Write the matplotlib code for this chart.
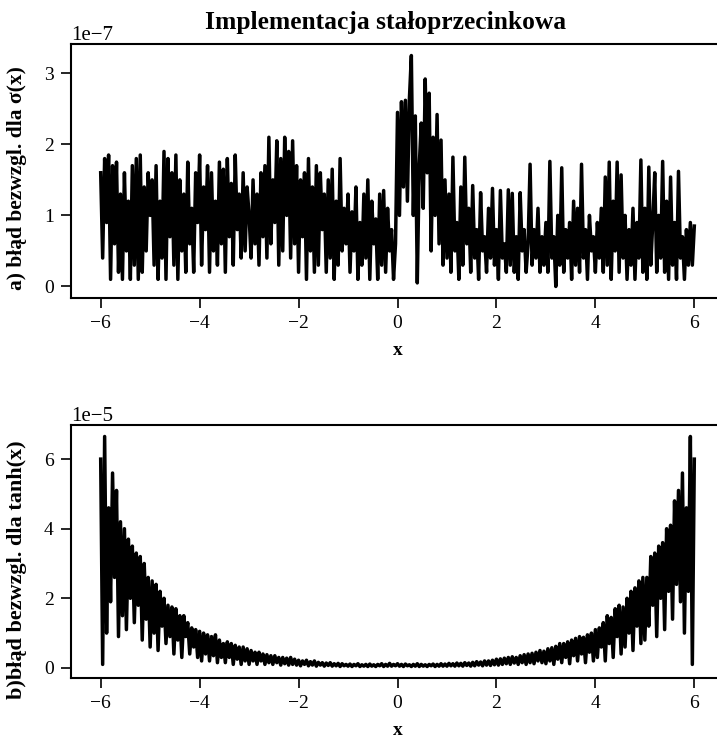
import numpy as np
import matplotlib
matplotlib.use("Agg")
import matplotlib.pyplot as plt

plt.rcParams['font.family'] = ['Liberation Serif', 'DejaVu Serif']

# blad bezwzgledny sigmoidy (jednostki 1e-7), krok 0.04 od -6 do 6
sig_err = [
    1.6, 0.4, 1.8, 0.9, 1.85, 0.1, 1.7, 0.6, 1.75, 0.2, 1.3, 0.1, 1.6, 0.5, 1.2, 0.1, 1.7, 0.3, 1.8, 0.1, 1.85, 0.2, 1.4, 0.5, 1.6,
    1.0, 1.5, 0.3, 1.7, 0.1, 1.2, 0.4, 1.9, 0.1, 1.8, 0.7, 1.6, 0.3, 1.85, 0.1, 1.5, 0.5, 1.3, 0.2, 1.75, 0.6, 1.1, 0.2, 1.6, 0.9,
    1.85, 0.3, 1.4, 0.8, 1.7, 0.2, 1.6, 0.5, 1.2, 0.3, 1.75, 0.6, 1.65, 0.2, 1.8, 0.7, 1.45, 0.3, 1.85, 0.8, 1.3, 0.4, 1.6, 0.5, 1.4,
    1.0, 0.4, 1.5, 0.6, 1.3, 0.3, 1.6, 0.7, 1.7, 0.4, 2.1, 0.6, 1.5, 0.9, 2.05, 0.3, 1.8, 0.5, 2.1, 1.0, 1.9, 0.4, 2.05, 0.6, 1.7,
    0.2, 1.5, 0.7, 1.6, 0.1, 1.8, 0.5, 1.4, 0.2, 1.7, 0.3, 1.6, 0.8, 1.3, 0.2, 1.5, 0.4, 1.65, 0.1, 1.2, 0.3, 1.8, 0.5, 1.1, 0.6,
    1.3, 0.2, 1.05, 0.5, 1.4, 0.1, 0.9, 0.3, 1.3, 0.4, 1.5, 0.1, 1.2, 0.6, 0.95, 0.1, 1.3, 0.3, 1.35, 0.2, 1.1, 0.5, 0.8, 0.1, 0.6,
    2.45, 1.0, 2.6, 1.4, 2.62, 1.2, 2.63, 3.25, 1.0, 2.4, 0.05, 1.7, 2.3, 1.1, 2.92, 1.6, 2.72, 0.5, 2.1, 1.0, 2.42, 0.6, 2.06, 0.3, 1.5,
    0.4, 1.3, 0.2, 1.82, 0.5, 0.9, 0.1, 1.4, 0.3, 1.82, 0.6, 1.1, 0.2, 1.42, 0.4, 0.8, 0.1, 1.32, 0.5, 0.7, 0.2, 1.1, 0.4, 1.38, 0.3,
    0.8, 0.1, 1.35, 0.4, 0.6, 0.2, 1.36, 0.3, 1.31, 0.2, 0.7, 0.1, 1.32, 0.5, 0.8, 0.2, 0.6, 1.72, 0.3, 0.8, 0.4, 1.1, 0.2, 0.7, 0.3,
    0.9, 0.2, 1.76, 0.4, 0.7, 0.0, 1.0, 0.3, 1.67, 0.2, 0.8, 0.4, 0.9, 0.1, 1.2, 0.3, 1.1, 0.2, 1.72, 0.4, 0.8, 0.1, 1.0, 0.5, 0.7,
    0.2, 0.9, 0.4, 1.1, 0.2, 1.54, 0.3, 1.75, 0.1, 1.2, 0.5, 1.75, 0.2, 1.57, 0.4, 1.0, 0.1, 0.8, 0.3, 1.1, 0.1, 0.9, 0.4, 1.78, 0.2,
    1.1, 0.1, 1.68, 0.3, 0.9, 1.6, 0.2, 1.0, 0.4, 1.76, 0.2, 1.2, 0.1, 1.54, 0.3, 0.9, 0.1, 1.62, 0.4, 0.7, 0.1, 0.8, 0.3, 0.9, 0.3, 0.85,
]

# blad bezwzgledny tanh (jednostki 1e-5), krok 0.04 od -6 do 6
tanh_err = [
    6.0, 0.1, 6.65, 1.0, 4.6, 1.9, 5.6, 2.6, 5.1, 0.9, 4.2, 1.5, 4.0, 1.1, 3.7, 2.0, 3.5, 1.3, 3.3, 1.8, 3.2, 0.8, 3.0, 1.4, 2.6,
    0.6, 2.5, 1.0, 2.4, 0.5, 2.2, 1.2, 2.0, 0.7, 1.8, 0.9, 1.75, 0.4, 1.7, 0.8, 1.5, 0.3, 1.5, 0.9, 1.3, 0.4, 1.15, 0.6, 1.1, 0.3,
    1.05, 0.2, 1.0, 0.4, 0.95, 0.2, 0.9, 0.35, 0.95, 0.15, 0.8, 0.3, 0.7, 0.15, 0.75, 0.3, 0.7, 0.1, 0.65, 0.25, 0.6, 0.1, 0.6, 0.2, 0.55,
    0.1, 0.5, 0.2, 0.45, 0.1, 0.45, 0.2, 0.4, 0.1, 0.38, 0.15, 0.35, 0.1, 0.35, 0.15, 0.3, 0.08, 0.3, 0.12, 0.28, 0.08, 0.3, 0.1, 0.25, 0.08,
    0.22, 0.06, 0.2, 0.1, 0.22, 0.06, 0.18, 0.08, 0.2, 0.05, 0.16, 0.08, 0.15, 0.05, 0.14, 0.07, 0.15, 0.05, 0.12, 0.06, 0.13, 0.04, 0.12, 0.06, 0.1,
    0.05, 0.11, 0.04, 0.1, 0.06, 0.12, 0.04, 0.09, 0.05, 0.1, 0.04, 0.11, 0.05, 0.09, 0.04, 0.1, 0.06, 0.12, 0.04, 0.1, 0.05, 0.13, 0.05, 0.1, 0.06,
    0.12, 0.05, 0.1, 0.04, 0.11, 0.06, 0.09, 0.04, 0.1, 0.05, 0.12, 0.04, 0.1, 0.05, 0.09, 0.04, 0.1, 0.06, 0.11, 0.04, 0.1, 0.05, 0.12, 0.05, 0.11,
    0.05, 0.13, 0.06, 0.12, 0.05, 0.14, 0.06, 0.13, 0.05, 0.15, 0.07, 0.14, 0.05, 0.16, 0.06, 0.18, 0.08, 0.17, 0.06, 0.2, 0.08, 0.2, 0.07, 0.22, 0.09,
    0.25, 0.08, 0.26, 0.1, 0.28, 0.12, 0.3, 0.1, 0.32, 0.14, 0.3, 0.1, 0.35, 0.15, 0.38, 0.1, 0.4, 0.15, 0.42, 0.12, 0.45, 0.2, 0.5, 0.15, 0.48,
    0.12, 0.55, 0.2, 0.58, 0.1, 0.62, 0.25, 0.7, 0.15, 0.7, 0.3, 0.75, 0.12, 0.8, 0.35, 0.85, 0.2, 0.9, 0.4, 0.88, 0.15, 0.95, 0.45, 1.0, 0.2,
    1.1, 0.3, 1.15, 0.6, 1.3, 0.2, 1.5, 0.7, 1.45, 0.3, 1.7, 0.9, 1.8, 0.4, 1.75, 0.6, 2.0, 1.0, 2.2, 0.5, 2.3, 1.2, 2.5, 0.7, 2.6,
    0.8, 2.6, 1.2, 3.2, 1.8, 3.3, 0.9, 3.5, 2.0, 3.6, 1.1, 4.0, 2.2, 4.1, 1.4, 4.8, 2.4, 5.1, 1.9, 5.6, 1.0, 4.6, 2.2, 6.65, 0.1, 6.0,
]

x_sig = np.linspace(-6, 6, len(sig_err))
x_tanh = np.linspace(-6, 6, len(tanh_err))

fig = plt.figure(figsize=(7.17, 7.40), dpi=100)
ax1 = fig.add_axes([71/717, 1-298/740, 653/717, 254/740])
ax2 = fig.add_axes([71/717, 1-678/740, 653/717, 253/740])

ax1.plot(x_sig, np.array(sig_err) * 1e-7, color='black', linewidth=2.5)
ax2.plot(x_tanh, np.array(tanh_err) * 1e-5, color='black', linewidth=2.5)

fig.text(386/717, 1-22/740, 'Implementacja stałoprzecinkowa', ha='center', va='center',
         fontsize=18.4, fontweight='bold')

ax1.set_ylabel('a) błąd bezwzgl. dla σ(x)', fontsize=15.4, fontweight='bold')
ax2.set_ylabel('b)błąd bezwzgl. dla tanh(x)', fontsize=16, fontweight='bold')
ax1.yaxis.set_label_coords(-0.068, 0.472)
ax2.yaxis.set_label_coords(-0.068, 0.43)

for ax in (ax1, ax2):
    ax.set_xlabel('x', fontsize=14, fontweight='bold')
    ax.xaxis.set_label_coords(0.5, -0.175)
    ax.tick_params(labelsize=14, width=1.2, length=7, pad=5.5)
    ax.yaxis.get_offset_text().set_fontsize(15)
    for s in ax.spines.values():
        s.set_linewidth(1.5)

fig.savefig('out.png', dpi=100)
